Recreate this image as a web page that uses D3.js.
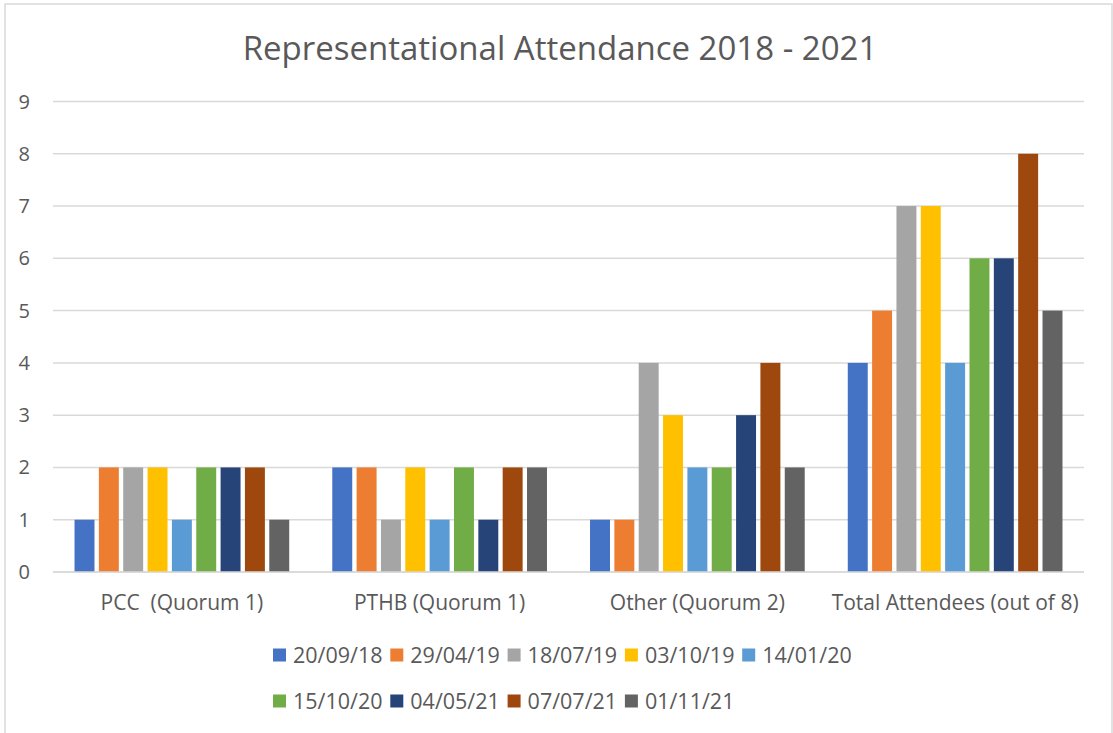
<!DOCTYPE html>
<html>
<head>
<meta charset="utf-8">
<script src="https://cdn.jsdelivr.net/npm/d3@7"></script>
<style>
  body { margin: 0; background: #fff; }
  text { font-family: "Open Sans", sans-serif; fill: #595959; }
</style>
</head>
<body>
<script>
// data
const categories = ["PCC  (Quorum 1)", "PTHB (Quorum 1)", "Other (Quorum 2)", "Total Attendees (out of 8)"];
const seriesNames = ["20/09/18", "29/04/19", "18/07/19", "03/10/19", "14/01/20", "15/10/20", "04/05/21", "07/07/21", "01/11/21"];
const pcc   = [1, 2, 2, 2, 1, 2, 2, 2, 1];
const pthb  = [2, 2, 1, 2, 1, 2, 1, 2, 2];
const other = [1, 1, 4, 3, 2, 2, 3, 4, 2];
const total = [4, 5, 7, 7, 4, 6, 6, 8, 5];
const yTicks = [0, 1, 2, 3, 4, 5, 6, 7, 8, 9];
const colors = ["#4472C4", "#ED7D31", "#A5A5A5", "#FFC000", "#5B9BD5", "#70AD47", "#264478", "#9E480E", "#636363"];

const rows = [pcc, pthb, other, total];

let svg, x0, x1, y;
const W = 1113, H = 733;
const plot = { left: 53, right: 1084, top: 101.5, bottom: 572 };

main();

function main() {
  appendSvg("body");
  drawFrame();
  setupScales();
  drawGrid();
  drawBars();
  drawAxes();
  addTitle();
  addLegend();
}

function appendSvg(el) {
  svg = d3.select(el).append("svg")
    .attr("width", W)
    .attr("height", H);
}

function drawFrame() {
  svg.append("rect")
    .attr("x", 5).attr("y", 4)
    .attr("width", 1107).attr("height", 740)
    .attr("fill", "#fff")
    .attr("stroke", "#d9d9d9")
    .attr("stroke-width", 1.5);
}

function setupScales() {
  x0 = d3.scaleBand()
    .domain(categories)
    .range([plot.left, plot.right])
    .paddingInner(0.15)
    .paddingOuter(0.075);

  x1 = d3.scaleBand()
    .domain(seriesNames)
    .range([0, x0.bandwidth()])
    .paddingInner(0.18)
    .paddingOuter(0.09);

  y = d3.scaleLinear()
    .domain([0, 9])
    .range([plot.bottom, plot.top]);
}

function drawGrid() {
  svg.append("g")
    .selectAll("line")
    .data(yTicks)
    .enter()
    .append("line")
    .attr("x1", plot.left)
    .attr("x2", plot.right)
    .attr("y1", d => y(d))
    .attr("y2", d => y(d))
    .attr("stroke", "#d9d9d9")
    .attr("stroke-width", 1.5);
}

function drawBars() {
  const groups = svg.append("g")
    .selectAll("g")
    .data(categories)
    .enter()
    .append("g")
    .attr("transform", d => `translate(${x0(d)},0)`);

  groups.selectAll("rect")
    .data((c, i) => rows[i].map((v, j) => ({ name: seriesNames[j], value: v, k: j })))
    .enter()
    .append("rect")
    .attr("x", d => x1(d.name))
    .attr("y", d => y(d.value))
    .attr("width", x1.bandwidth())
    .attr("height", d => y(0) - y(d.value))
    .attr("fill", d => colors[d.k]);

  // baseline on top of bars
  svg.append("line")
    .attr("x1", plot.left).attr("x2", plot.right)
    .attr("y1", y(0)).attr("y2", y(0))
    .attr("stroke", "#d9d9d9")
    .attr("stroke-width", 1.5);
}

function drawAxes() {
  // y labels
  svg.append("g")
    .selectAll("text")
    .data(yTicks)
    .enter()
    .append("text")
    .attr("x", 30)
    .attr("y", d => y(d) + 7)
    .attr("text-anchor", "end")
    .style("font-size", "20px")
    .text(d => d);

  // category labels
  svg.append("g")
    .selectAll("text")
    .data(categories)
    .enter()
    .append("text")
    .attr("x", d => x0(d) + x0.bandwidth() / 2)
    .attr("y", 610)
    .attr("text-anchor", "middle")
    .attr("xml:space", "preserve")
    .style("white-space", "pre")
    .style("font-size", "21px")
    .text(d => d);
}

function addTitle() {
  svg.append("text")
    .attr("x", 560)
    .attr("y", 60)
    .attr("text-anchor", "middle")
    .style("font-size", "33px")
    .text("Representational Attendance 2018 - 2021");
}

function addLegend() {
  const perRow = 5, stepX = 117.3, rowY = [655, 701];
  const items = svg.append("g")
    .selectAll("g")
    .data(seriesNames)
    .enter()
    .append("g")
    .attr("transform", (d, i) => `translate(${273 + (i % perRow) * stepX},${rowY[Math.floor(i / perRow)]})`);

  items.append("rect")
    .attr("x", 0).attr("y", -6.5)
    .attr("width", 13).attr("height", 13)
    .attr("fill", (d, i) => colors[i]);

  items.append("text")
    .attr("x", 20)
    .attr("y", 7.5)
    .style("font-size", "21.5px")
    .text(d => d);
}
</script>
</body>
</html>
